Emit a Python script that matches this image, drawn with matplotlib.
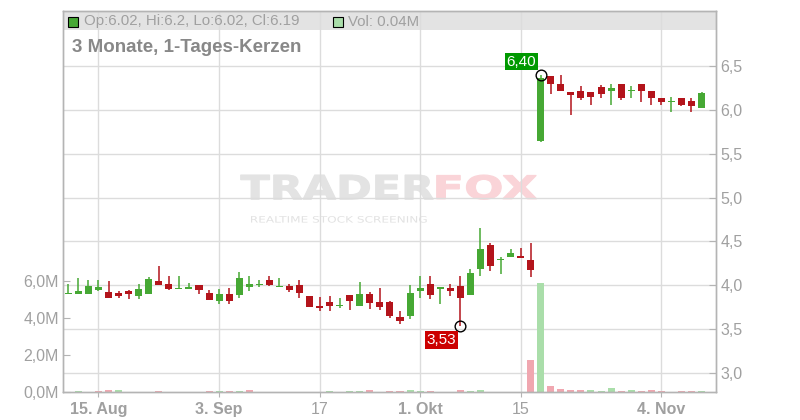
import numpy as np
import matplotlib
matplotlib.use('Agg')
import matplotlib.pyplot as plt
from matplotlib.patches import Rectangle, PathPatch
from matplotlib.textpath import TextPath
from matplotlib.font_manager import FontProperties
from matplotlib.transforms import Affine2D, blended_transform_factory

plt.rcParams['font.family'] = 'Liberation Sans'

# daily candles, 64 trading days (index 0 = 12 Aug)
opens = [3.90, 3.90, 3.90, 3.95, 3.92, 3.91, 3.94, 3.875, 3.90, 4.045,
         4.02, 3.96, 3.96, 4.00, 3.91, 3.82, 3.90, 3.89, 3.985, 4.00,
         4.055, 3.98, 3.99, 4.00, 3.875, 3.76, 3.805, 3.76, 3.885, 3.765,
         3.90, 3.805, 3.805, 3.64, 3.65, 3.93, 4.02, 3.958, 3.965, 3.99,
         3.89, 4.185, 4.455, 4.29, 4.32, 4.33, 4.285, 5.65, 6.385, 6.295,
         6.205, 6.215, 6.205, 6.26, 6.21, 6.295, 6.21, 6.295, 6.215, 6.135,
         6.09, 6.135, 6.10, 6.02]
highs = [4.01, 4.08, 4.06, 4.06, 4.05, 3.94, 3.945, 4.02, 4.09, 4.22,
         4.10, 4.10, 4.03, 4.00, 3.945, 3.955, 3.965, 4.15, 4.10, 4.06,
         4.10, 4.08, 4.01, 4.055, 3.875, 3.865, 3.875, 3.85, 3.89, 4.035,
         3.92, 3.965, 3.82, 3.705, 4.00, 4.10, 4.10, 3.98, 4.01, 4.10,
         4.18, 4.65, 4.48, 4.32, 4.41, 4.43, 4.48, 6.40, 6.39, 6.40,
         6.205, 6.275, 6.205, 6.28, 6.295, 6.295, 6.275, 6.295, 6.215, 6.135,
         6.15, 6.135, 6.135, 6.20]
lows = [3.90, 3.90, 3.90, 3.93, 3.86, 3.855, 3.845, 3.845, 3.90, 4.00,
        3.945, 3.955, 3.955, 3.90, 3.83, 3.79, 3.79, 3.855, 3.935, 3.98,
        3.99, 3.98, 3.92, 3.855, 3.75, 3.71, 3.71, 3.74, 3.72, 3.765,
        3.73, 3.72, 3.63, 3.56, 3.615, 3.855, 3.845, 3.79, 3.88, 3.53,
        3.89, 4.105, 4.16, 4.13, 4.32, 4.31, 4.095, 5.63, 6.175, 6.22,
        5.945, 6.115, 6.05, 6.13, 6.05, 6.115, 6.14, 6.095, 6.05, 6.05,
        5.97, 6.04, 5.98, 6.02]
closes = [3.91, 3.93, 3.99, 3.98, 3.86, 3.875, 3.90, 3.955, 4.07, 4.00,
          3.96, 3.97, 3.98, 3.95, 3.835, 3.90, 3.82, 4.08, 4.02, 4.02,
          4.00, 3.99, 3.945, 3.91, 3.755, 3.745, 3.76, 3.775, 3.82, 3.90,
          3.80, 3.755, 3.65, 3.595, 3.91, 3.965, 3.89, 3.975, 3.935, 3.855,
          4.135, 4.41, 4.22, 4.30, 4.365, 4.31, 4.175, 6.36, 6.30, 6.22,
          6.165, 6.14, 6.15, 6.185, 6.25, 6.14, 6.225, 6.21, 6.13, 6.085,
          6.10, 6.05, 6.04, 6.19]
volumes = [0.0, 0.05, 0.0, 0.05, 0.11, 0.11, 0.0, 0.0, 0.0, 0.05,
           0.0, 0.0, 0.0, 0.0, 0.05, 0.05, 0.05, 0.05, 0.11, 0.0,
           0.0, 0.0, 0.0, 0.0, 0.0, 0.0, 0.05, 0.0, 0.05, 0.05,
           0.11, 0.0, 0.05, 0.05, 0.11, 0.05, 0.05, 0.0, 0.0, 0.11,
           0.05, 0.11, 0.0, 0.0, 0.0, 0.0, 1.71, 5.92, 0.33, 0.16,
           0.11, 0.11, 0.11, 0.05, 0.22, 0.05, 0.11, 0.05, 0.11, 0.05,
           0.0, 0.05, 0.05, 0.04]

date_ticks = [3, 15, 25, 35, 45, 59]
date_labels = ['15. Aug', '3. Sep', '17', '1. Okt', '15', '4. Nov']
date_bold = [True, True, False, True, False, True]
price_ticks = [3.0, 3.5, 4.0, 4.5, 5.0, 5.5, 6.0, 6.5]
vol_ticks = [0, 2, 4, 6]

green = '#46a834'
red = '#b3141b'
vgreen = '#aadeaa'
vred = '#f0a7b0'
grid_c = '#dcdcdc'
spine_c = '#b4b4b4'
label_c = '#a0a0a0'

x = np.arange(len(opens))
o = np.array(opens)
c = np.array(closes)

fig = plt.figure(figsize=(8, 4.2), dpi=100)
ax = fig.add_axes([63 / 800, 28 / 420, 653 / 800, 381 / 420])
ax2 = ax.twinx()

ax.set_xlim(-0.53, 64.44)
ax.set_ylim(0, 20.6)
ax2.set_ylim(2.783, 7.127)

# header band
ax.add_patch(Rectangle((0, 0.9501), 1, 0.05, transform=ax.transAxes,
                       fc='#e3e3e3', ec='none', zorder=0.2))

# watermark
def wm(s, x0, x1, ytop, ybot, color, weight, lw):
    tp = TextPath((0, 0), s, size=100,
                  prop=FontProperties(family='DejaVu Sans', weight=weight))
    bb = tp.get_extents()
    tr = Affine2D().translate(-bb.x0, -bb.y0).scale((x1 - x0) / bb.width,
                                                      (ybot - ytop) / bb.height)
    tr = tr.translate(x0, 420 - ybot)
    p = PathPatch(tp, fc=color, ec=color if lw else 'none', lw=lw, zorder=0.3)
    p.set_transform(tr)
    ax.add_patch(p)

wm('TRADER', 240.7, 433.3, 175, 199.3, '#e3e3e3', 'bold', 0.8)
wm('FOX', 436.7, 536.7, 175, 199.3, '#fad4d8', 'bold', 0.8)
wm('REALTIME STOCK SCREENING', 251, 426.7, 216, 222.7, '#e2e2e2', 'normal', 0)

# grid
ax.set_axisbelow(True)
ax.set_xticks(date_ticks)
ax.grid(axis='x', color=grid_c, lw=1)
htr = blended_transform_factory(ax.transAxes, ax2.transData)
for p in price_ticks:
    ax.plot([0, 1], [p, p], transform=htr, color=grid_c, lw=1, zorder=0.5)

# volume
up = np.concatenate([[True], c[1:] >= c[:-1]])
ax.bar(x, volumes, width=0.7, color=np.where(up, vgreen, vred), zorder=2)

# candles
cc = np.where(c >= o, green, red)
ax2.vlines(x, lows, highs, colors=cc, lw=1.1, zorder=3)
body = np.maximum(np.abs(c - o), 0.012)
ax2.bar(x, body, bottom=np.minimum(o, c), width=0.7, color=cc, zorder=4)

# high / low markers
ax2.plot([47, 39], [6.40, 3.53], 'o', mfc='none', mec='black', ms=7.7, mew=1, zorder=6)
ax2.annotate('6,40', xy=(47, 6.40), xytext=(-3.2, 4.4), textcoords='offset points',
             ha='right', va='bottom', color='white', fontsize=11, zorder=7,
             bbox=dict(boxstyle='square,pad=0.12', fc='#009900', ec='none'))
ax2.annotate('3,53', xy=(39, 3.53), xytext=(-3.0, -4.7), textcoords='offset points',
             ha='right', va='top', color='white', fontsize=11, zorder=7,
             bbox=dict(boxstyle='square,pad=0.12', fc='#cc0000', ec='none'))

# axes styling
ax.set_yticks(vol_ticks)
ax.set_yticklabels([('%.1fM' % v).replace('.', ',') for v in vol_ticks])
ax2.set_yticks(price_ticks)
ax2.set_yticklabels([('%.1f' % p).replace('.', ',') for p in price_ticks])
ax.set_xticklabels(date_labels)
for lab, b in zip(ax.get_xticklabels(), date_bold):
    if b:
        lab.set_fontweight('bold')

ax.tick_params(axis='y', direction='in', length=5, color=spine_c,
               labelcolor=label_c, labelsize=11.5, pad=3)
ax2.tick_params(axis='y', direction='in', length=5, color=spine_c,
                labelcolor=label_c, labelsize=11.5, pad=3)
ax.tick_params(axis='x', direction='out', length=3.5, color=spine_c,
               labelcolor=label_c, labelsize=11.5, pad=3.5)
for a in (ax, ax2):
    for s in a.spines.values():
        s.set_color(spine_c)
        s.set_linewidth(1)

# header texts
fig.add_artist(Rectangle((68 / 800, 1 - 27 / 420), 10 / 800, 10 / 420,
                         transform=fig.transFigure, fc=green, ec='black', lw=0.8))
fig.text(84 / 800, 1 - 21.5 / 420, 'Op:6.02, Hi:6.2, Lo:6.02, Cl:6.19',
         color=label_c, fontsize=10.8, va='center')
fig.add_artist(Rectangle((333 / 800, 1 - 27 / 420), 10 / 800, 10 / 420,
                         transform=fig.transFigure, fc=vgreen, ec='black', lw=0.8))
fig.text(348 / 800, 1 - 21.5 / 420, 'Vol: 0.04M',
         color=label_c, fontsize=10.8, va='center')
fig.text(72.5 / 800, 1 - 48 / 420, '3 Monate, 1-Tages-Kerzen',
         color='#888888', fontsize=13.5, fontweight='bold', va='center')

fig.savefig('out.png', dpi=100)
